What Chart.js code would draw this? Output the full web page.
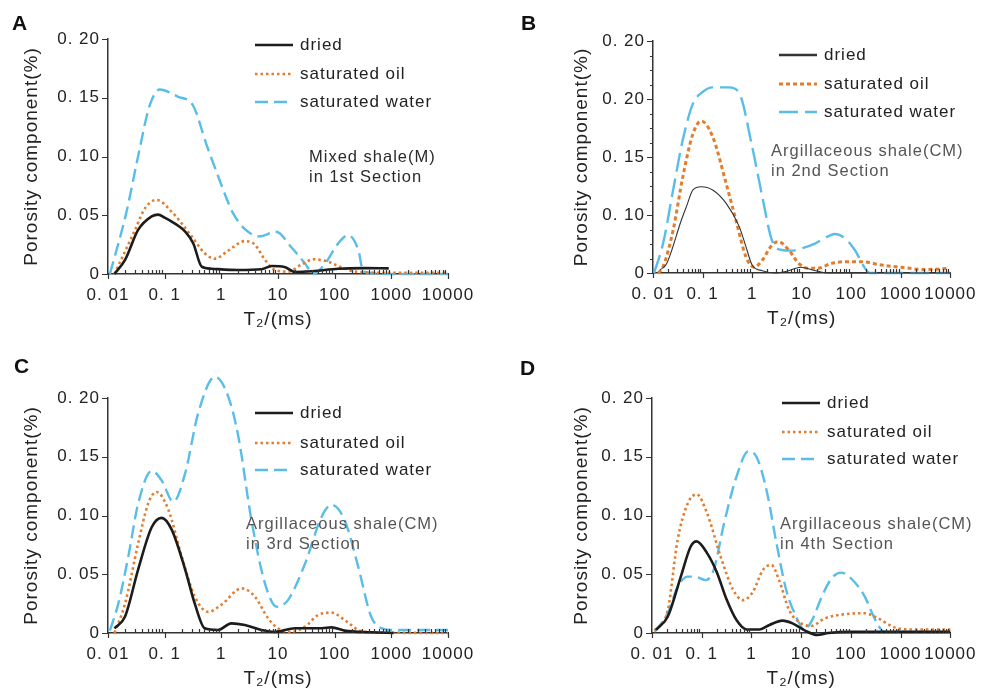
<!DOCTYPE html>
<html>
<head>
<meta charset="utf-8">
<script src="https://cdn.jsdelivr.net/npm/chart.js@4.4.0/dist/chart.umd.min.js"></script>
<style>
body { margin: 0; background: #fff; }
#wrap { position: relative; width: 985px; height: 693px; overflow: hidden; }
canvas { position: absolute; }
.tag { position: absolute; font: bold 21px "Liberation Sans", Arial, sans-serif; line-height: 1; color: #111; }
</style>
</head>
<body>
<div id="wrap">
  <canvas id="cA" width="490" height="345" style="left:0;top:0"></canvas>
  <canvas id="cB" width="495" height="345" style="left:490px;top:0"></canvas>
  <canvas id="cC" width="490" height="348" style="left:0;top:345px"></canvas>
  <canvas id="cD" width="495" height="348" style="left:490px;top:345px"></canvas>
  <div class="tag" style="left:12px;top:12px">A</div>
  <div class="tag" style="left:521px;top:12px">B</div>
  <div class="tag" style="left:14px;top:355px">C</div>
  <div class="tag" style="left:520px;top:357px">D</div>
</div>
<script>
/*
 NMR T2 spectra, four shale samples
 x: T2 (ms, log), y: porosity component (%)
*/
const seriesNames = ["dried", "saturated oil", "saturated water"];
const xTickValues = [0.01, 0.1, 1, 10, 100, 1000, 10000];
const xTickLabels = ["0. 01", "0. 1", "1", "10", "100", "1000", "10000"];
const yTickValues = [0, 0.05, 0.10, 0.15, 0.20];
const yTickLabels = ["0", "0. 05", "0. 10", "0. 15", "0. 20"];
const yTickLabelsB = ["0", "0. 10", "0. 15", "0. 20", "0. 20"]; // printed like this in panel B

// A - Mixed shale(M), 1st section
const aDriedT = [0.013, 0.02, 0.034, 0.059, 0.077, 0.1, 0.133, 0.23, 0.32, 0.45, 0.67, 2.0, 5.1, 7.8, 13, 20, 40, 115, 340, 900];
const aDriedP = [0, 0.012, 0.0375, 0.049, 0.0505, 0.048, 0.0446, 0.036, 0.026, 0.0063, 0.0045, 0.0034, 0.004, 0.0068, 0.006, 0.0017, 0.0023, 0.0045, 0.005, 0.0048];
const aOilT = [0.013, 0.03, 0.045, 0.072, 0.133, 0.30, 0.51, 0.77, 1.33, 2.6, 3.9, 5.9, 8.9, 15, 26, 42, 77, 130, 260, 1000, 10000];
const aOilP = [0, 0.0375, 0.056, 0.063, 0.053, 0.032, 0.0176, 0.013, 0.02, 0.028, 0.025, 0.012, 0.0034, 0.002, 0.008, 0.0125, 0.0105, 0.0057, 0.0017, 0.001, 0.001];
const aWaterT = [0.0108, 0.021, 0.036, 0.054, 0.082, 0.17, 0.32, 0.54, 0.93, 1.6, 2.7, 4.7, 9.3, 17, 30, 42, 68, 115, 174, 263, 320, 1000, 10000];
const aWaterP = [0, 0.052, 0.106, 0.143, 0.157, 0.151, 0.143, 0.111, 0.080, 0.052, 0.0375, 0.032, 0.036, 0.023, 0.009, 0, 0.009, 0.026, 0.033, 0.02, 0.002, 0, 0];

// B - Argillaceous shale(CM), 2nd section (values on the drawn axis positions)
const bDriedT = [0.0138, 0.0188, 0.0374, 0.047, 0.064, 0.094, 0.16, 0.3, 0.55, 0.75, 1.0, 1.6, 3, 5.5, 9.5, 19, 35, 10000];
const bDriedP = [0.0026, 0.008, 0.0457, 0.057, 0.0716, 0.0744, 0.0716, 0.06, 0.04, 0.0227, 0.0069, 0.002, 0, 0.002, 0.005, 0.002, 0, 0];
const bOilT = [0.0128, 0.016, 0.0255, 0.04, 0.064, 0.094, 0.16, 0.3, 0.47, 0.75, 1.1, 1.6, 2.5, 3.4, 5.5, 8.7, 13.7, 21, 40, 86, 160, 400, 1000, 3000, 9000];
const bOilP = [0, 0.0055, 0.037, 0.083, 0.12, 0.131, 0.1175, 0.077, 0.0457, 0.014, 0.005, 0.011, 0.024, 0.027, 0.0198, 0.0083, 0.004, 0.004, 0.0083, 0.0098, 0.0098, 0.0069, 0.005, 0.003, 0.004];
const bWaterT = [0.0105, 0.016, 0.0255, 0.04, 0.064, 0.1, 0.16, 0.34, 0.55, 1.0, 1.6, 2.5, 4, 6.3, 10, 19, 29, 47, 74, 118, 190, 240, 10000];
const bWaterP = [0, 0.0256, 0.0716, 0.115, 0.146, 0.156, 0.16, 0.16, 0.155, 0.109, 0.066, 0.0284, 0.0198, 0.0193, 0.0213, 0.0256, 0.03, 0.0336, 0.03, 0.0198, 0.004, 0, 0];

// C - Argillaceous shale(CM), 3rd section
const cDriedT = [0.013, 0.02, 0.034, 0.059, 0.088, 0.133, 0.23, 0.34, 0.51, 0.88, 1.5, 2.6, 5.1, 8.9, 20, 59, 88, 150, 440, 1100];
const cDriedP = [0.004, 0.014, 0.054, 0.09, 0.098, 0.088, 0.054, 0.025, 0.004, 0.0026, 0.0082, 0.0068, 0.0026, 0.001, 0.004, 0.004, 0.0048, 0.002, 0.0006, 0];
const cOilT = [0.013, 0.02, 0.034, 0.051, 0.072, 0.116, 0.2, 0.34, 0.59, 1.0, 2.3, 3.9, 6.7, 10, 17.5, 30, 51, 88, 150, 260, 440, 10000];
const cOilP = [0, 0.025, 0.076, 0.11, 0.12, 0.105, 0.065, 0.031, 0.018, 0.024, 0.038, 0.031, 0.0125, 0.004, 0.001, 0.0054, 0.0153, 0.0173, 0.011, 0.0026, 0.0006, 0];
const cWaterT = [0.0108, 0.0152, 0.0228, 0.034, 0.059, 0.088, 0.142, 0.23, 0.39, 0.77, 1.33, 2.0, 3.4, 5.9, 9.5, 15, 30, 59, 88, 150, 260, 440, 680, 1100, 10000];
const cWaterP = [0.002, 0.025, 0.065, 0.11, 0.138, 0.13, 0.1117, 0.136, 0.187, 0.218, 0.201, 0.167, 0.096, 0.042, 0.0224, 0.028, 0.059, 0.099, 0.109, 0.096, 0.0565, 0.014, 0.004, 0.0026, 0.0026];

// D - Argillaceous shale(CM), 4th section
const dDriedT = [0.012, 0.0208, 0.038, 0.06, 0.079, 0.128, 0.2, 0.32, 0.5, 0.8, 1.46, 2.3, 4.2, 6.7, 12, 21, 35, 100, 1000, 10000];
const dDriedP = [0.0026, 0.014, 0.048, 0.0736, 0.078, 0.068, 0.052, 0.028, 0.011, 0.003, 0.003, 0.0068, 0.0105, 0.0082, 0.002, -0.0017, 0, 0.001, 0.001, 0.001];
const dOilT = [0.0113, 0.0208, 0.0327, 0.052, 0.079, 0.128, 0.24, 0.43, 0.68, 1.07, 1.7, 2.5, 3.6, 5.7, 10, 16, 30, 76, 190, 350, 750, 1600, 10000];
const dOilP = [0.002, 0.0196, 0.079, 0.11, 0.118, 0.102, 0.065, 0.0366, 0.028, 0.035, 0.0537, 0.058, 0.045, 0.0196, 0.0082, 0.006, 0.0125, 0.016, 0.0168, 0.0125, 0.0048, 0.003, 0.003];
const dWaterT = [0.0113, 0.0208, 0.0327, 0.052, 0.082, 0.12, 0.175, 0.28, 0.5, 0.86, 1.26, 2.0, 3.2, 5.0, 7.9, 11.5, 16.6, 26, 41, 64, 100, 190, 250, 350, 470, 10000];
const dWaterP = [0.001, 0.017, 0.039, 0.048, 0.0474, 0.045, 0.054, 0.093, 0.133, 0.1545, 0.15, 0.122, 0.076, 0.0366, 0.014, 0.003, 0.011, 0.031, 0.0466, 0.0514, 0.0466, 0.031, 0.0196, 0.0068, 0.001, 0.001];

const FONT = '"Liberation Sans", Arial, sans-serif';
Chart.defaults.font.family = FONT;
Chart.defaults.color = "#222";

const BLACK = "#1c1c1c", ORANGE = "#e27d2e", BLUE = "#58bde8";

// all decade + minor positions on the log axis
const xAllTicks = [];
for (let e = -2; e <= 3; e++) for (let m = 1; m <= 9; m++) xAllTicks.push(parseFloat((m * Math.pow(10, e)).toPrecision(6)));
xAllTicks.push(10000);

function isMajorX(v) { return xTickValues.some(t => Math.abs(Math.log10(t) - Math.log10(v)) < 1e-6); }
function isMajorY(v) { return yTickValues.some(t => Math.abs(t - v) < 1e-9); }
function pts(t, p) { return t.map((x, i) => ({ x: x, y: p[i] })); }

const panelDecor = {
  id: "panelDecor",
  beforeDraw(chart) { chart.ctx.letterSpacing = "1px"; },
  afterDraw(chart, args, o) {
    const ctx = chart.ctx, xs = chart.scales.x, ys = chart.scales.y;
    ctx.save();
    ctx.strokeStyle = "#333"; ctx.lineWidth = 1.2;
    ctx.beginPath();
    xs.ticks.forEach(t => {
      const px = Math.round(xs.getPixelForValue(t.value)) + 0.5;
      if (isMajorX(t.value)) { ctx.moveTo(px, xs.top); ctx.lineTo(px, xs.top + 5); }
      else { ctx.moveTo(px, xs.top); ctx.lineTo(px, xs.top - 4); }
    });
    ys.ticks.forEach(t => {
      const py = Math.round(ys.getPixelForValue(t.value)) + 0.5;
      ctx.moveTo(ys.right, py); ctx.lineTo(ys.right - (isMajorY(t.value) ? 6 : 3), py);
    });
    ctx.stroke();
    // legend
    const lg = o.legend;
    ctx.font = "17px " + FONT; ctx.textBaseline = "middle"; ctx.textAlign = "left";
    chart.data.datasets.forEach((ds, i) => {
      const ry = lg.rows[i];
      ctx.setLineDash(ds.borderDash || []);
      ctx.strokeStyle = ds.borderColor;
      ctx.lineWidth = Math.max(ds.borderWidth, 2.5);
      ctx.beginPath(); ctx.moveTo(lg.x0, ry); ctx.lineTo(lg.x1, ry); ctx.stroke();
      ctx.setLineDash([]);
      ctx.fillStyle = "#222";
      ctx.fillText(ds.label, lg.tx, ry);
    });
    // sample note
    const nt = o.note;
    ctx.font = "16.5px " + FONT; ctx.fillStyle = nt.color;
    nt.lines.forEach((s, i) => ctx.fillText(s, nt.x, nt.y + i * 20));
    ctx.restore();
  }
};

function makePanel(id, cfg) {
  const thin = cfg.thin;
  const datasets = [
    { label: seriesNames[0], data: pts(cfg.dried[0], cfg.dried[1]), borderColor: thin ? "#333" : BLACK,
      borderWidth: thin ? 1.1 : 2.6, borderDash: [] },
    { label: seriesNames[1], data: pts(cfg.oil[0], cfg.oil[1]), borderColor: ORANGE,
      borderWidth: thin ? 3 : 2.6, borderDash: thin ? [4, 3] : [2.5, 3] },
    { label: seriesNames[2], data: pts(cfg.water[0], cfg.water[1]), borderColor: BLUE,
      borderWidth: 2.4, borderDash: thin ? [19, 7] : [13, 6] }
  ];
  datasets.forEach(d => { d.pointRadius = 0; d.fill = false; d.clip = false; d.cubicInterpolationMode = "monotone"; });
  const pl = cfg.plot, canvas = document.getElementById(id);
  const padLeft = pl.titleX - 11.4;
  const yTicks = cfg.yMinor ? Array.from({ length: 17 }, (_, i) => +(i * 0.0125).toFixed(4)) : yTickValues;
  new Chart(canvas, {
    type: "line",
    data: { datasets },
    options: {
      responsive: false, animation: false, events: [],
      layout: { padding: { left: padLeft, top: pl.t, right: canvas.width - pl.r, bottom: canvas.height - pl.b - 57 } },
      plugins: { legend: { display: false }, tooltip: { enabled: false }, panelDecor: { legend: cfg.legend, note: cfg.note } },
      scales: {
        x: {
          type: "logarithmic", min: 0.01, max: 10000,
          afterBuildTicks: s => { s.ticks = xAllTicks.map(v => ({ value: v })); },
          afterFit: s => { s.height = 57; },
          grid: { display: false, drawTicks: false },
          border: { display: true, color: "#333", width: 1.5 },
          ticks: { autoSkip: false, maxRotation: 0, padding: 11, font: { size: 17 },
            callback: v => { const k = xTickValues.findIndex(t => Math.abs(Math.log10(t) - Math.log10(v)) < 1e-6); return k < 0 ? "" : xTickLabels[k]; } },
          title: { display: true, text: "T\u2082/(ms)", font: { size: 19 }, padding: 0, color: "#222" }
        },
        y: {
          type: "linear", min: 0, max: 0.2,
          afterBuildTicks: s => { s.ticks = yTicks.map(v => ({ value: v })); },
          afterFit: s => { s.width = pl.l - padLeft; },
          grid: { display: false, drawTicks: false },
          border: { display: true, color: "#333", width: 1.5 },
          ticks: { autoSkip: false, padding: 8, font: { size: 17 },
            callback: v => { const k = yTickValues.findIndex(t => Math.abs(t - v) < 1e-9); return k < 0 ? "" : cfg.yLabels[k]; } },
          title: { display: true, text: "Porosity component(%)", font: { size: 19 }, padding: 0, color: "#222" }
        }
      }
    },
    plugins: [panelDecor]
  });
}

makePanel("cA", {
  plot: { l: 108, r: 448, t: 39, b: 274, titleX: 32 },
  dried: [aDriedT, aDriedP], oil: [aOilT, aOilP], water: [aWaterT, aWaterP], yLabels: yTickLabels,
  legend: { x0: 255, x1: 293, tx: 300, rows: [45, 74, 102] },
  note: { x: 309, y: 157, lines: ["Mixed shale(M)", "in 1st Section"], color: "#2a2a2a" }
});
makePanel("cB", {
  plot: { l: 163, r: 463, t: 41, b: 273, titleX: 92 }, thin: true, yMinor: true,
  dried: [bDriedT, bDriedP], oil: [bOilT, bOilP], water: [bWaterT, bWaterP], yLabels: yTickLabelsB,
  legend: { x0: 289, x1: 327, tx: 334, rows: [55, 84, 112] },
  note: { x: 281, y: 151, lines: ["Argillaceous shale(CM)", "in 2nd Section"], color: "#555" }
});
makePanel("cC", {
  plot: { l: 108, r: 448, t: 53, b: 288, titleX: 32 },
  dried: [cDriedT, cDriedP], oil: [cOilT, cOilP], water: [cWaterT, cWaterP], yLabels: yTickLabels,
  legend: { x0: 255, x1: 293, tx: 300, rows: [68, 98, 125] },
  note: { x: 246, y: 179, lines: ["Argillaceous shale(CM)", "in 3rd Section"], color: "#555" }
});
makePanel("cD", {
  plot: { l: 162, r: 465, t: 53, b: 288, titleX: 92 },
  dried: [dDriedT, dDriedP], oil: [dOilT, dOilP], water: [dWaterT, dWaterP], yLabels: yTickLabels,
  legend: { x0: 292, x1: 330, tx: 337, rows: [58, 87, 114] },
  note: { x: 290, y: 179, lines: ["Argillaceous shale(CM)", "in 4th Section"], color: "#555" }
});
</script>
</body>
</html>
